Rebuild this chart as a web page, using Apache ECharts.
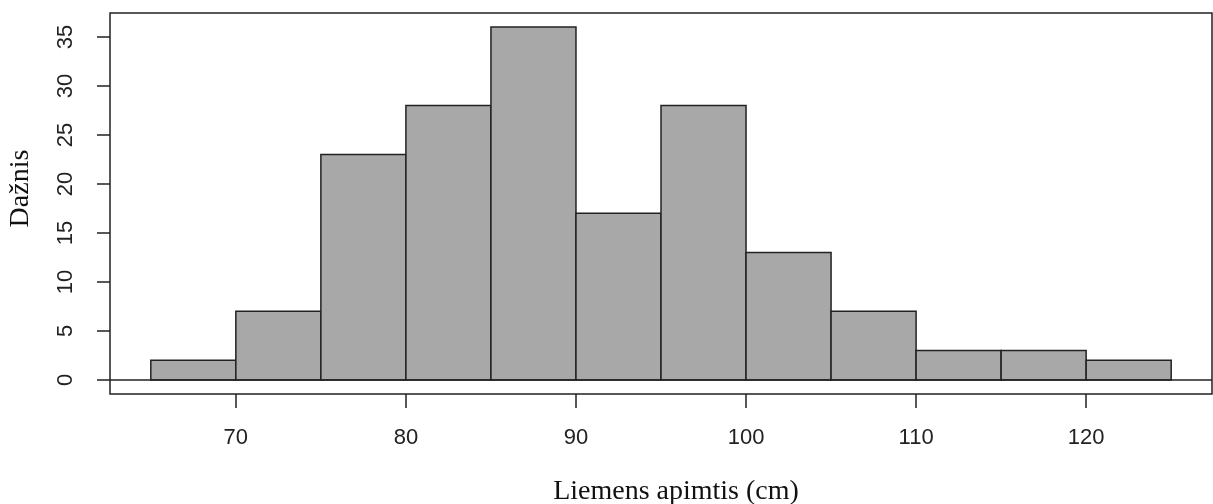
<!DOCTYPE html>
<html>
<head>
<meta charset="utf-8">
<script src="https://cdn.jsdelivr.net/npm/echarts@6/dist/echarts.min.js"></script>
<style>
  html, body { margin: 0; padding: 0; background: #fff; }
  #main { width: 1213px; height: 504px; }
</style>
</head>
<body>
<div id="main"></div>
<script>
// histogram bins (edges) and counts
var binEdges = [65, 70, 75, 80, 85, 90, 95, 100, 105, 110, 115, 120, 125];
var counts = [2, 7, 23, 28, 36, 17, 28, 13, 7, 3, 3, 2];
var xTicks = [70, 80, 90, 100, 110, 120];
var yTicks = [0, 5, 10, 15, 20, 25, 30, 35];

var dom = document.getElementById("main");
var myChart = echarts.init(dom);

var barData = [];
for (var i = 0; i < counts.length; i++) {
    barData.push([binEdges[i], binEdges[i + 1], counts[i]]);
}

var option = {
    backgroundColor: '#fff',
    animation: false,
    grid: {
        left: 110,
        right: 1,
        top: 13,
        bottom: 110,
        outerBoundsMode: 'none',
        containLabel: false,
        show: true,
        borderColor: '#222',
        borderWidth: 1.5,
        backgroundColor: 'transparent'
    },
    xAxis: {
        type: 'value',
        min: 62.6,
        max: 127.4,
        name: 'Liemens apimtis (cm)',
        nameLocation: 'middle',
        nameGap: 84,
        nameTextStyle: {
            fontFamily: 'Liberation Serif',
            fontSize: 28,
            color: '#111',
            padding: [0, 0, 0, 30]
        },
        axisLine: { show: false, onZero: false },
        splitLine: { show: false },
        axisTick: {
            show: true,
            length: 14,
            customValues: xTicks,
            lineStyle: { color: '#222', width: 1.5 }
        },
        axisLabel: {
            customValues: xTicks,
            margin: 33,
            fontFamily: 'Liberation Sans',
            fontSize: 22,
            color: '#222'
        }
    },
    yAxis: {
        type: 'value',
        min: -1.44,
        max: 37.44,
        name: 'Dažnis',
        nameLocation: 'middle',
        nameGap: 75,
        nameTextStyle: {
            fontFamily: 'Liberation Serif',
            fontSize: 28,
            color: '#111',
            padding: [0, 0, 0, 30]
        },
        axisLine: { show: false, onZero: false },
        splitLine: { show: false },
        axisTick: {
            show: true,
            length: 13,
            customValues: yTicks,
            lineStyle: { color: '#222', width: 1.5 }
        },
        axisLabel: {
            customValues: yTicks,
            rotate: 90,
            margin: 33,
            fontFamily: 'Liberation Sans',
            fontSize: 22,
            color: '#222'
        }
    },
    series: [
        {
            type: 'custom',
            data: barData,
            encode: { x: [0, 1], y: 2 },
            renderItem: function (params, api) {
                var p0 = api.coord([api.value(0), 0]);
                var p1 = api.coord([api.value(1), api.value(2)]);
                return {
                    type: 'rect',
                    shape: {
                        x: p0[0],
                        y: p1[1],
                        width: p1[0] - p0[0],
                        height: p0[1] - p1[1]
                    },
                    style: {
                        fill: '#a8a8a8',
                        stroke: '#222',
                        lineWidth: 1.5
                    }
                };
            },
            markLine: {
                silent: true,
                symbol: 'none',
                label: { show: false },
                lineStyle: { color: '#222', width: 1.5, type: 'solid' },
                data: [{ yAxis: 0 }]
            }
        }
    ]
};
myChart.setOption(option, true);
window.onresize = myChart.resize;
</script>
</body>
</html>
